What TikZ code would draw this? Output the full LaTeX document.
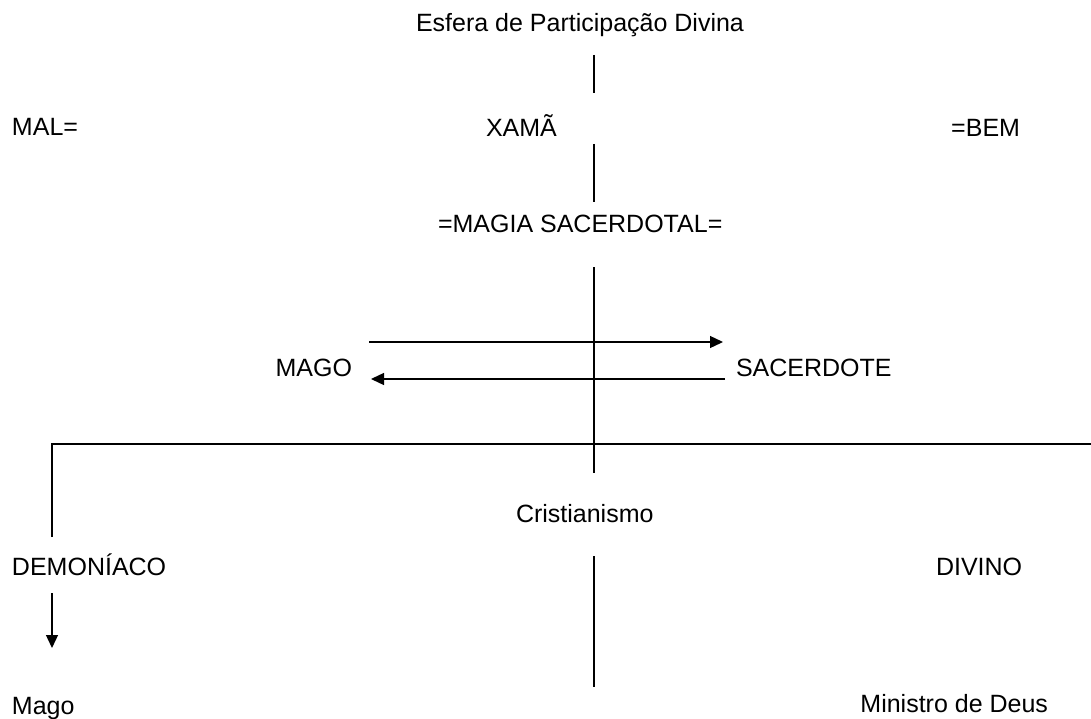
\documentclass[tikz,border=0pt]{standalone}
\usepackage{fontspec}
\setmainfont{Liberation Sans}
\usetikzlibrary{positioning, arrows.meta}

\begin{document}
\begin{tikzpicture}[x=1pt, y=-1pt, thick,
    label/.style={inner sep=0pt, outer sep=0pt, text height=18pt, text depth=5pt, font=\fontsize{25}{30}\selectfont},
    line/.style={line width=1.3pt},
    arrow/.style={-{Triangle[length=13pt, width=12pt]}, line width=1.3pt}]

    \useasboundingbox (0,0) rectangle (1091,719);
    \coordinate (axis) at (594,0);
    \coordinate (edge) at (1091,444);

    % Nodes
    \node[label, anchor=base west] (esfera) at (416,32) {Esfera de Participação Divina};
    \node[label, anchor=base west] (mal) at (12,136) {MAL=};
    \node[label, anchor=base west] (xama) at (486,137) {XAMÃ};
    \node[label, anchor=base east] (bem) at (1020,137) {=BEM};
    \node[label, anchor=base west] (magia) at (438,233) {=MAGIA SACERDOTAL=};
    \node[label, anchor=base east] (mago) at (352,376) {MAGO};
    \node[label, anchor=base west] (sacerdote) at (736,376) {SACERDOTE};
    \node[label, anchor=base west] (cristianismo) at (516,522) {Cristianismo};
    \node[label, anchor=base west] (demoniaco) at (12,575) {DEMONÍACO};
    \node[label, anchor=base west] (divino) at (936,575) {DIVINO};
    \node[label, anchor=base west] (magob) at (12,714) {Mago};
    \node[label, anchor=base east] (ministro) at (1048,712) {Ministro de Deus};

    % Lines
    \draw[line, shorten <=18pt, shorten >=26pt] (esfera.south -| axis) -- (xama.north -| axis);
    \draw[line, shorten <=2pt, shorten >=13pt] (xama.south -| axis) -- (magia.north -| axis);
    \draw[line, shorten <=29pt, shorten >=31pt] (magia.south -| axis) -- (cristianismo.north -| axis);
    \draw[line, shorten <=29pt, shorten >=7pt] (cristianismo.south -| axis) -- (ministro.north -| axis);
    \draw[line] ([xshift=40pt, yshift=20pt]demoniaco.north west) |- (edge);

    % Arrows
    \draw[arrow] ([xshift=17pt, yshift=16pt]mago.north east) -- ([xshift=-13pt, yshift=16pt]sacerdote.north west);
    \draw[arrow] ([xshift=-11pt, yshift=-9.5pt]sacerdote.west) -- ([xshift=19pt, yshift=-9.5pt]mago.east);
    \draw[arrow] ([xshift=40pt, yshift=-13pt]demoniaco.south west) -- ([xshift=40pt, yshift=48pt]magob.north west);
\end{tikzpicture}
\end{document}
